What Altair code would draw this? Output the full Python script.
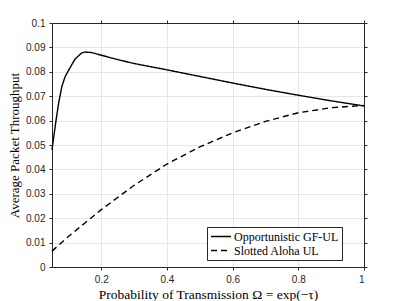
import altair as alt
import pandas as pd

x_solid = [0.05, 0.06, 0.07, 0.08, 0.09, 0.10, 0.12, 0.14, 0.15, 0.17, 0.20, 0.25, 0.30, 0.40, 0.50, 0.60, 0.70, 0.80, 0.90, 1.00]
y_solid = [0.048, 0.058, 0.067, 0.074, 0.078, 0.0805, 0.0852, 0.0877, 0.0881, 0.0879, 0.0868, 0.0850, 0.0834, 0.0808, 0.0781, 0.0754, 0.0728, 0.0704, 0.0681, 0.0660]

x_dash = [0.05, 0.10, 0.20, 0.30, 0.40, 0.50, 0.60, 0.70, 0.80, 0.90, 1.00]
y_dash = [0.0065, 0.0125, 0.0235, 0.0335, 0.0422, 0.0492, 0.0550, 0.0597, 0.0632, 0.0653, 0.0662]

series_names = ["Opportunistic GF-UL", "Slotted Aloha UL"]
x_ticks = [0.2, 0.4, 0.6, 0.8, 1.0]
y_ticks = [0, 0.01, 0.02, 0.03, 0.04, 0.05, 0.06, 0.07, 0.08, 0.09, 0.1]

df = pd.concat([
    pd.DataFrame({"x": x_solid, "y": y_solid, "s": series_names[0]}),
    pd.DataFrame({"x": x_dash, "y": y_dash, "s": series_names[1]}),
])

axis_color = "#262626"
label_font = "Liberation Sans"
title_font = "Liberation Serif"

xscale = alt.Scale(domain=[0.05, 1], nice=False, zero=False)
yscale = alt.Scale(domain=[0, 0.1], nice=False)

base = alt.Chart(df)

lines = base.mark_line(color="black", strokeWidth=1.4).encode(
    x=alt.X("x:Q", scale=xscale,
            axis=alt.Axis(values=x_ticks, format="~g", title="Probability of Transmission Ω = exp(−τ)",
                          grid=True, gridColor="#e6e6e6", domainColor=axis_color, tickColor=axis_color,
                          labelColor=axis_color, labelFont=label_font, labelFontSize=10, tickSize=3,
                          labelPadding=4, titleFont=title_font, titleFontSize=13.5, titleFontWeight="normal",
                          titleColor="black", titlePadding=3)),
    y=alt.Y("y:Q", scale=yscale,
            axis=alt.Axis(values=y_ticks, format="~g", title="Average Packet Throughput",
                          grid=True, gridColor="#e6e6e6", domainColor=axis_color, tickColor=axis_color,
                          labelColor=axis_color, labelFont=label_font, labelFontSize=10, tickSize=3,
                          labelPadding=4, titleFont=title_font, titleFontSize=13, titleFontWeight="normal",
                          titleColor="black", titlePadding=4)),
    strokeDash=alt.StrokeDash("s:N", scale=alt.Scale(domain=series_names, range=[[1, 0], [6, 4]]),
                              legend=alt.Legend(title=None, orient="none", legendX=155, legendY=204,
                                                symbolType="stroke", symbolStrokeColor="black",
                                                symbolStrokeWidth=1.4, symbolSize=400,
                                                labelFont=title_font, labelFontSize=12, labelColor="black",
                                                strokeColor=axis_color, fillColor="white", padding=3,
                                                rowPadding=1, clipHeight=13, labelOffset=2, symbolOffset=0)),
)

frame = base.mark_line(opacity=0).encode(
    x=alt.X("x:Q", scale=xscale,
            axis=alt.Axis(orient="top", values=x_ticks, labels=False, title=None, grid=False,
                          domainColor=axis_color, tickColor=axis_color, tickSize=3)),
    y=alt.Y("y:Q", scale=yscale,
            axis=alt.Axis(orient="right", values=y_ticks, labels=False, title=None, grid=False,
                          domainColor=axis_color, tickColor=axis_color, tickSize=3)),
)

chart = alt.layer(lines, frame).resolve_axis(x="independent", y="independent").properties(
    width=312, height=244,
    autosize=alt.AutoSizeParams(type="none"),
    padding={"left": 44, "top": 15, "right": 30, "bottom": 34},
).configure_view(stroke=None).configure(background="white")

chart.save("out.html", embed_options={"renderer": "svg", "actions": False})
